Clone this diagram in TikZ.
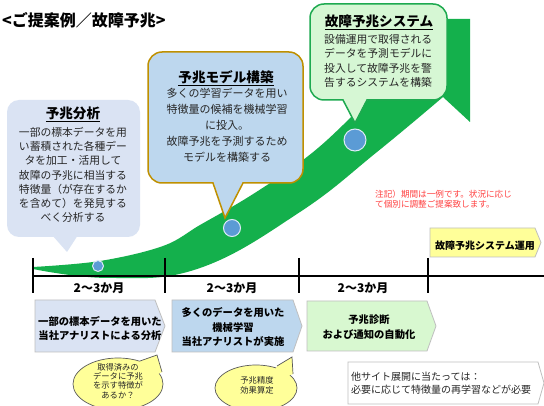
\documentclass[tikz,border=0pt]{standalone}
\usepackage{fontspec}
\setmainfont{Noto Sans CJK JP}
\definecolor{bandgreen}{RGB}{20,176,76}
\definecolor{bgblue}{RGB}{218,227,243}
\definecolor{ltblue}{RGB}{189,215,238}
\definecolor{goldb}{RGB}{191,144,0}
\definecolor{ltgreen}{RGB}{214,247,212}
\definecolor{phgreen}{RGB}{216,248,208}
\definecolor{bubgreen}{RGB}{30,170,80}
\definecolor{yel}{RGB}{255,255,153}
\definecolor{dotblue}{RGB}{91,155,213}
\definecolor{txt}{RGB}{38,38,38}
\definecolor{notered}{RGB}{255,64,64}
\definecolor{edgegray}{RGB}{191,191,191}
\definecolor{ellgray}{RGB}{90,90,90}
\tikzset{
  body/.style={font=\fontsize{10.8}{14.2}\selectfont, text=txt, align=center, inner sep=0pt},
  ttl/.style={font=\bfseries\fontsize{13.6}{16}\selectfont, inner sep=0pt},
  dotc/.style={circle, fill=dotblue, draw=white!80!dotblue, line width=1pt, inner sep=0pt},
  phase/.style={line width=0.8pt, draw=edgegray},
  phasetext/.style={font=\bfseries\fontsize{10.3}{14}\selectfont, align=center, inner sep=0pt},
  months/.style={font=\bfseries\fontsize{12}{14}\selectfont, inner sep=0pt},
  tick/.style={line width=1.8pt},
  elltext/.style={font=\fontsize{8.3}{9.4}\selectfont, text=txt, align=center, inner sep=0pt},
  callout/.style={fill=yel, draw=ellgray, line width=0.7pt},
}
\begin{document}
\begin{tikzpicture}[x=1pt,y=-1pt]
\useasboundingbox (0,0) rectangle (544,406);
\fill[white] (0,0) rectangle (544,406);

% green growth band
\fill[bandgreen] plot[smooth, tension=0.7] coordinates {(33,269) (110,278) (200,268) (300,212) (377,152) (443,97)}
  -- (470,122) -- (470,19) -- (435,19)
  -- plot[smooth, tension=0.6] coordinates {(435,24) (400,66) (343,125) (303,160) (250,196) (200,225) (163,246) (100,261) (33,267)} -- cycle;

% title
\node[anchor=west, font=\bfseries\fontsize{16}{18}\selectfont, inner sep=0pt] (title) at (2,20) {<ご提案例／故障予兆>};

% bubble 1: 予兆分析
\fill[bgblue, rounded corners=12pt] (7,100) rectangle (140,237);
\fill[bgblue] (52,235) -- (67,252) -- (78,235) -- cycle;
\node[ttl] (t1) at (73,114) {\underline{予兆分析}};
\node[body] (b1) at (73,175) {一部の標本データを用\\い蓄積された各種デー\\タを加工・活用して\\故障の予兆に相当する\\特徴量（が存在するか\\を含めて）を発見する\\べく分析する};

% bubble 2: 予兆モデル構築
\draw[fill=ltblue, draw=goldb, line width=1.5pt, rounded corners=14pt] (148,52) rectangle (303,183);
\fill[ltblue] (213.7,179) -- (213.7,183) -- (225,218) -- (242.3,183) -- (242.3,179) -- cycle;
\draw[goldb, line width=1.5pt] (213,183) -- (225,218) -- (243,183);
\node[ttl] (t2) at (226,78) {\underline{予兆モデル構築}};
\node[body, font=\fontsize{11}{16}\selectfont] (b2) at (227,125) {多くの学習データを用い\\特徴量の候補を機械学習\\に投入。\\故障予兆を予測するため\\モデルを構築する};

% bubble 3: 故障予兆システム
\draw[fill=ltgreen, draw=bubgreen, line width=1.5pt, rounded corners=14pt] (310,4) rectangle (447,100);
\fill[ltgreen] (343.7,96) -- (343.7,100) -- (355,123) -- (366.3,100) -- (366.3,96) -- cycle;
\draw[bubgreen, line width=1.5pt] (343,100) -- (355,123) -- (367,100);
\node[ttl] (t3) at (379,22) {\underline{故障予兆システム}};
\node[body, align=left, anchor=west] (b3) at (324,61) {設備運用で取得される\\データを予測モデルに\\投入して故障予兆を警\\告するシステムを構築};

% milestone dots
\node[dotc, minimum size=11pt] (d1) at (98,266) {};
\node[dotc, minimum size=17pt] (d2) at (232,228) {};
\node[dotc, minimum size=22pt] (d3) at (355,140) {};

% note
\node[anchor=west, text=notered, font=\fontsize{8.6}{10}\selectfont, align=left, inner sep=0pt] (note) at (375,199.5) {注記）期間は一例です。状況に応じ\\て個別に調整ご提案致します。};

% operation arrow
\draw[fill=yel, draw=edgegray, line width=0.8pt] (430,228) -- (535,228) -- (541,242.5) -- (535,257) -- (430,257) -- cycle;
\node[font=\bfseries\fontsize{10}{12}\selectfont, inner sep=0pt] (op) at (485,246) {故障予兆システム運用};

% timeline
\coordinate (a0) at (33,276);
\coordinate (a1) at (544,276);
\draw[tick] (a0) -- (a1);
\draw[tick] (33,258) -- (33,293);
\draw[tick] (165,258) -- (165,293);
\draw[tick] (299,258) -- (299,293);
\draw[tick] (428,258) -- (428,293);
\node[months] (m1) at (99,288) {2～3か月};
\node[months] (m2) at (232,288) {2～3か月};
\node[months] (m3) at (363,288) {2～3か月};

% phase boxes
\draw[phase, fill=bgblue] (35,300) -- (155,300) -- (165,326) -- (155,352) -- (35,352) -- cycle;
\node[phasetext] (p1) at (100,328.5) {一部の標本データを用いた\\当社アナリストによる分析};
\draw[phase, fill=ltblue] (172,300) -- (293,300) -- (302,326) -- (293,352) -- (172,352) -- cycle;
\node[phasetext, font=\bfseries\fontsize{10.3}{14.5}\selectfont] (p2) at (233,327) {多くのデータを用いた\\機械学習\\当社アナリストが実施};
\draw[phase, fill=phgreen] (307,301) -- (427,301) -- (436,326) -- (427,351) -- (307,351) -- cycle;
\node[phasetext, font=\bfseries\fontsize{10.3}{15}\selectfont] (p3) at (369,327.5) {予兆診断\\および通知の自動化};

% callouts
\draw[callout] (118,384) ellipse[x radius=45, y radius=26];
\fill[yel] (138,366) -- (140,361) -- (157,355) -- (162,372) -- (158,374) -- cycle;
\draw[ellgray, line width=0.7pt] (140,361) -- (157,355) -- (162,372);
\node[elltext] (c1) at (118,381) {取得済みの\\データに予兆\\を示す特徴が\\あるか？};
\draw[callout] (256,388) ellipse[x radius=41, y radius=23];
\fill[yel] (275,370) -- (277,366) -- (292,357) -- (293,374) -- (288,376) -- cycle;
\draw[ellgray, line width=0.7pt] (277,366) -- (292,357) -- (293,374);
\node[elltext] (c2) at (257,385.5) {予兆精度\\効果算定};

% deployment note
\draw[phase, fill=white] (348,362) -- (538,362) -- (544,383) -- (538,404) -- (348,404) -- cycle;
\node[anchor=west, align=left, text=txt, font=\fontsize{10}{13}\selectfont, inner sep=0pt] (dep) at (351,383.5) {他サイト展開に当たっては：\\必要に応じて特徴量の再学習などが必要};
\end{tikzpicture}
\end{document}
